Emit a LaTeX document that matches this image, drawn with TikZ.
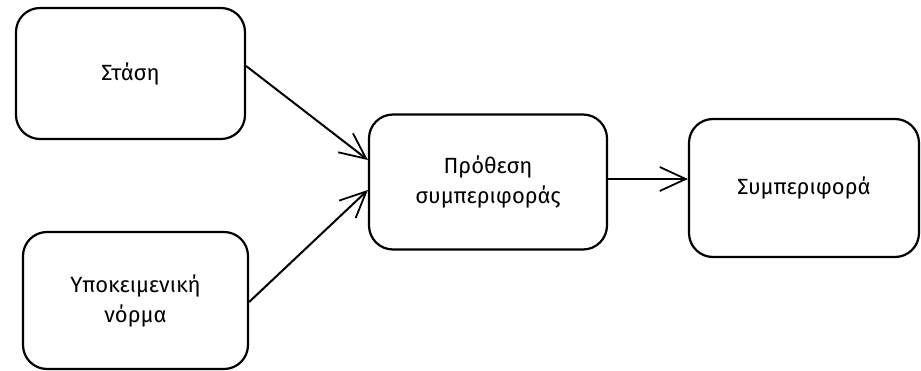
\documentclass[tikz,border=0pt]{standalone}
\usepackage{fontspec}
\setmainfont{Fira Sans}
\usetikzlibrary{arrows.meta, positioning}

\begin{document}
\begin{tikzpicture}[x=1pt, y=-1pt,
        box/.style = {draw, line width=2.2pt, rounded corners=24pt, align=center,
            font=\fontsize{22}{30}\selectfont},
        conn/.style = {line width=2pt, -{Straight Barb[length=26pt, width=24pt, line width=1.8pt]}}]
        \useasboundingbox (0,0) rectangle (921,371);
        \node[box, minimum width=229pt, minimum height=131pt] (stasi) at (130.5,73.5) {Στάση};
        \node[box, minimum width=225pt, minimum height=137pt] (norma) at (135.5,300.5) {Υποκειμενική\\νόρμα};
        \node[box, minimum width=238pt, minimum height=135pt] (prothesi) at (488,182) {Πρόθεση\\συμπεριφοράς};
        \node[box, minimum width=230pt, minimum height=138pt] (symp) at (804,188) {Συμπεριφορά};
        \draw[conn] (stasi.east |- 0,66) -- (prothesi.west |- 0,160);
        \draw[conn] (norma.east |- 0,302) -- (prothesi.west |- 0,190);
        \draw[conn] (prothesi.east |- 0,179) -- (symp.west |- 0,179);
        \end{tikzpicture}
\end{document}
